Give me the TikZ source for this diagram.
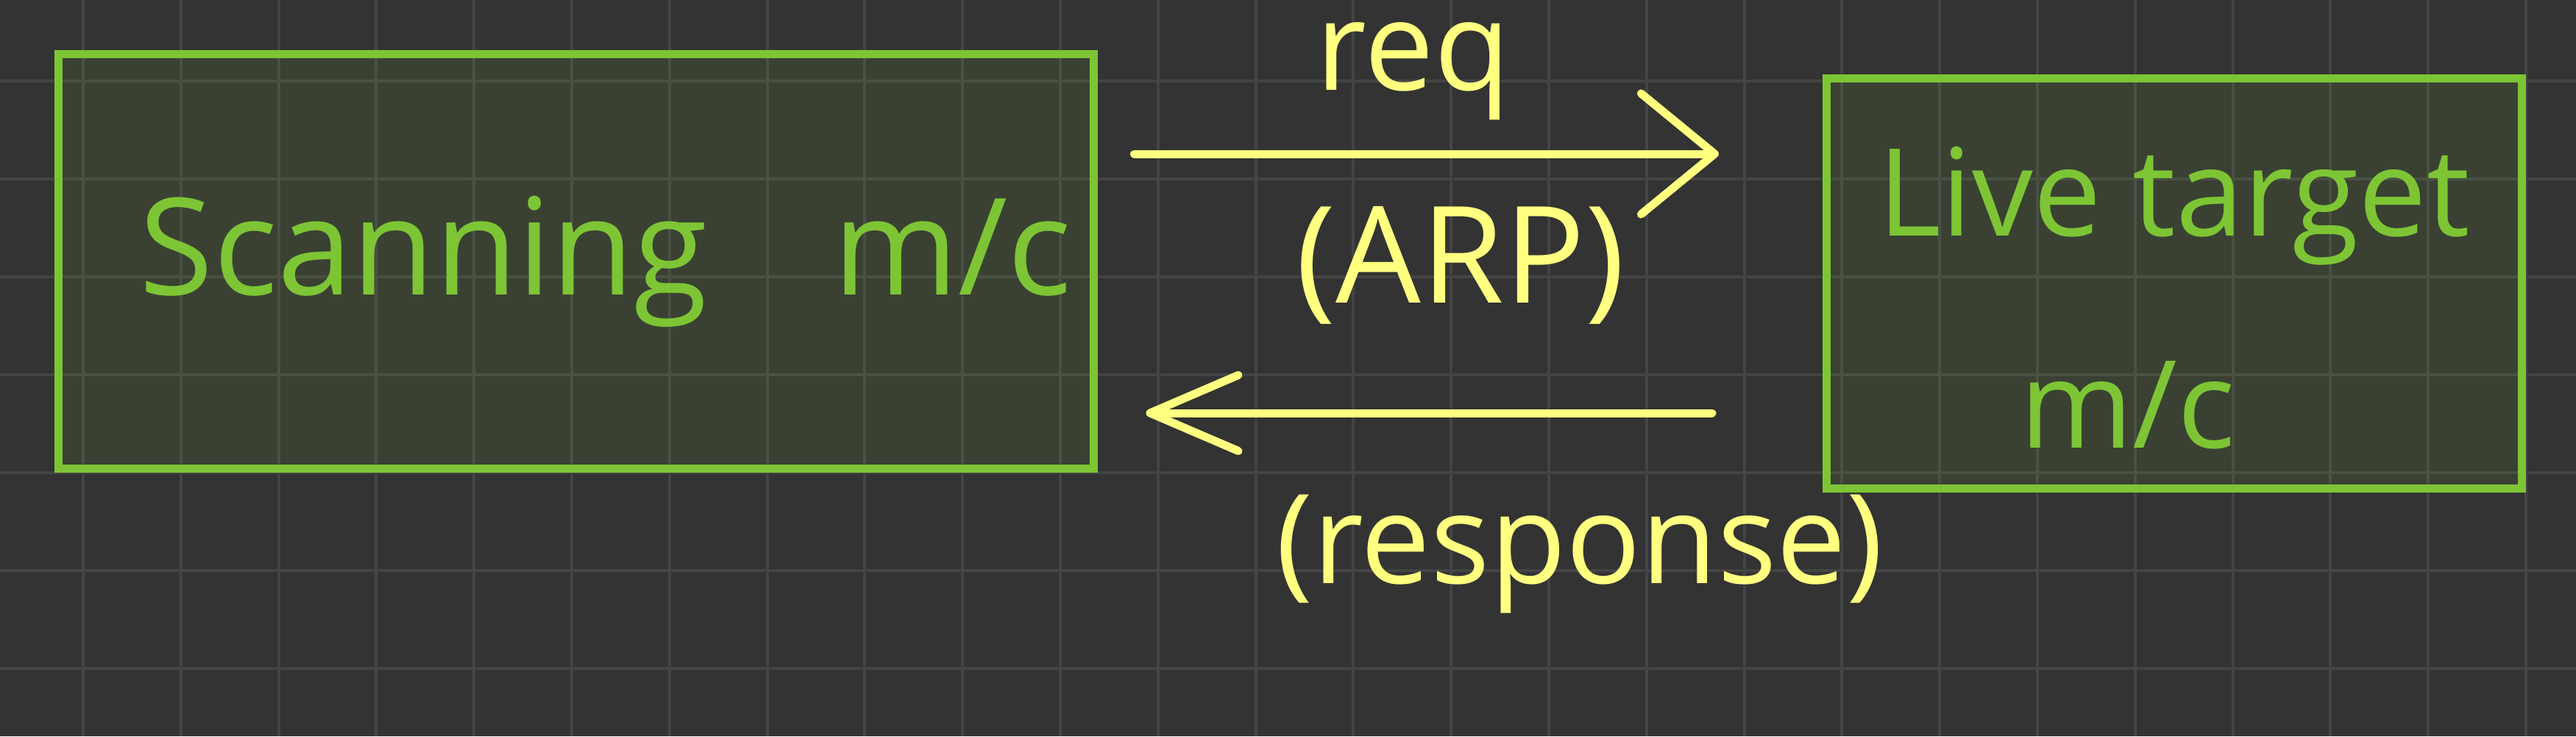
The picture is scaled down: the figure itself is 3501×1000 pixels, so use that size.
\documentclass[tikz,border=0pt]{standalone}
\usepackage{fontspec}
\setmainfont{Open Sans}
\usetikzlibrary{arrows.meta,positioning}
\definecolor{board}{RGB}{51,51,51}
\definecolor{gridGray}{RGB}{68,68,68}
\definecolor{chalkGreen}{RGB}{125,197,53}
\definecolor{chalkYellow}{RGB}{255,255,128}
\tikzset{
  gridline/.style={draw=gridGray, line width=0.04cm},
  machine/.style={draw=chalkGreen, line width=0.11cm, fill=chalkGreen, fill opacity=0.1,
                  text opacity=1, text=chalkGreen, align=center, inner sep=0pt},
  hand/.style={font=\fontsize{52}{60}\selectfont},
  note/.style={text=chalkYellow, font=\fontsize{48}{56}\selectfont, inner sep=3pt},
  request/.style={draw=chalkYellow, line width=0.11cm, line cap=round,
                  -{Straight Barb[length=1cm, width=1.64cm, round]}},
  reply/.style={draw=chalkYellow, line width=0.11cm, line cap=round,
                -{Straight Barb[length=1.2cm, width=1.03cm, round]}}
}
\begin{document}
\begin{tikzpicture}[x=0.01cm, y=-0.01cm]
  % board and grid
  \fill[board] (0,0) rectangle (3501,1000);
  \useasboundingbox (0,0) rectangle (3501,1000);
  \foreach \gx in {113,245.8,...,3501} \draw[gridline] (\gx,0) -- (\gx,1000);
  \foreach \gy in {110,243,...,1000} \draw[gridline] (0,\gy) -- (3501,\gy);
  % machines
  \node[machine, hand, minimum width=14.07cm, minimum height=5.62cm] (scan) at (783,355)
    {\hspace*{0.8cm}Scanning\hspace{1.7cm}m/c};
  \node[machine, font=\fontsize{47}{55}\selectfont, minimum width=9.44cm, minimum height=5.57cm,
        right=9.84cm of scan, yshift=-0.3cm] (target)
    {\rule{0pt}{1.6cm}Live target\\[0.95cm]m/c\hspace*{1.26cm}};
  % messages
  \coordinate (reqlevel) at (0,209);
  \coordinate (resplevel) at (0,561);
  \draw[request, shorten <=0.49cm, shorten >=1.41cm] (scan.east |- reqlevel)
    -- node[note, above=0.3cm, xshift=-0.64cm] (reqlbl) {req}
       node[note, font=\fontsize{52}{60}\selectfont, below=0.55cm] (arplbl) {(ARP)} (target.west |- reqlevel);
  \draw[reply, shorten <=1.5cm, shorten >=0.65cm] (target.west |- resplevel)
    -- node[note, below=0.95cm, xshift=1.62cm] (resplbl) {(response)} (scan.east |- resplevel);
\end{tikzpicture}
\end{document}
